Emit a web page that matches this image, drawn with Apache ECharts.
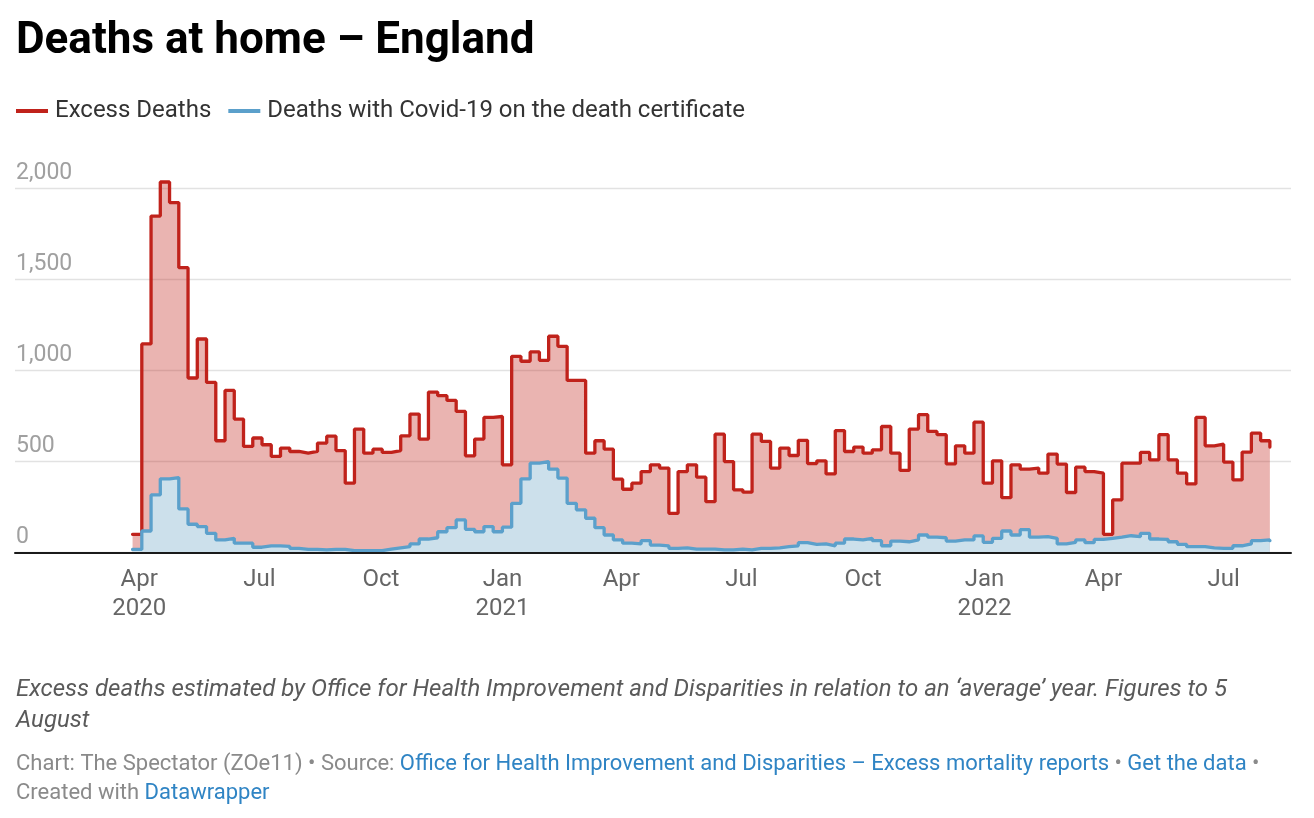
<!DOCTYPE html>
<html>
<head>
<meta charset="utf-8">
<script src="https://cdn.jsdelivr.net/npm/echarts@6/dist/echarts.min.js"></script>
<style>
html,body{margin:0;padding:0;background:#fff;}
#chart{width:1314px;height:818px;}
</style>
</head>
<body>
<div id="chart"></div>
<script>
// Weekly figures, weeks ending Friday, first week ending 27 Mar 2020, last 5 Aug 2022
const firstWeekEnding = '2020-03-27';

const excessDeaths = [
  101, 1145, 1846, 2033, 1920, 1563, 958, 1172, 934, 614,
  890, 733, 583, 629, 592, 528, 574, 555, 546, 555,
  601, 639, 560, 381, 678, 546, 568, 550, 560, 641,
  760, 623, 881, 861, 835, 775, 531, 623, 742, 747,
  482, 1077, 1050, 1101, 1055, 1187, 1132, 945, 945, 546,
  614, 568, 403, 348, 381, 445, 482, 464, 216, 445,
  482, 414, 280, 650, 500, 345, 332, 650, 610, 464,
  574, 533, 616, 489, 504, 432, 670, 555, 579, 546,
  564, 692, 546, 451, 678, 757, 665, 647, 487, 586,
  546, 716, 381, 504, 302, 482, 458, 464, 436, 541,
  486, 330, 469, 445, 436, 101, 290, 491, 491, 550,
  509, 647, 509, 436, 377, 742, 586, 595, 497, 399,
  552, 656, 614, 579
];

const covidDeaths = [
  18, 119, 317, 405, 412, 240, 156, 143, 106, 70,
  79, 52, 52, 30, 37, 37, 35, 24, 18, 18,
  15, 18, 18, 11, 11, 11, 11, 20, 27, 33,
  48, 75, 82, 115, 137, 180, 128, 115, 143, 115,
  140, 271, 405, 491, 500, 458, 409, 271, 235, 189,
  137, 97, 70, 52, 48, 66, 42, 38, 24, 27,
  20, 20, 20, 15, 15, 20, 15, 24, 24, 27,
  33, 38, 55, 46, 48, 38, 52, 75, 70, 79,
  66, 38, 64, 60, 70, 97, 85, 82, 64, 70,
  70, 92, 57, 79, 119, 97, 126, 85, 88, 79,
  48, 57, 70, 55, 73, 79, 85, 93, 88, 106,
  75, 73, 60, 46, 33, 33, 27, 24, 24, 38,
  48, 66, 70, 66
];

const xTickDates = ['2020-04-01','2020-07-01','2020-10-01','2021-01-01','2021-04-01','2021-07-01','2021-10-01','2022-01-01','2022-04-01','2022-07-01'];
const xTickLabels = ['Apr\n2020','Jul','Oct','Jan\n2021','Apr','Jul','Oct','Jan\n2022','Apr','Jul'];
const yTickValues = [0, 500, 1000, 1500, 2000];
const yTickLabels = ['0', '500', '1,000', '1,500', '2,000'];

const seriesNames = ['Excess Deaths', 'Deaths with Covid-19 on the death certificate'];

function ts(s) { const p = s.split('-').map(Number); return Date.UTC(p[0], p[1] - 1, p[2]); }
const DAY = 86400000;
const weekDates = excessDeaths.map((_, i) => ts(firstWeekEnding) + i * 7 * DAY);

const excessData = weekDates.map((d, i) => [d, excessDeaths[i]]);
const covidData = weekDates.map((d, i) => [d, covidDeaths[i]]);

const xTickTs = xTickDates.map(ts);
const xLabelMap = {};
xTickTs.forEach((t, i) => { xLabelMap[t] = xTickLabels[i]; });
const yLabelMap = {};
yTickValues.forEach((v, i) => { yLabelMap[v] = yTickLabels[i]; });

const chart = echarts.init(document.getElementById('chart'), null, { renderer: 'canvas' });

const FONT = 'Roboto';
const RED = '#c0221b';
const BLUE = '#5ba0cb';

chart.setOption({
  backgroundColor: '#ffffff',
  animation: false,
  textStyle: { fontFamily: FONT },
  title: [
    {
      text: 'Deaths at home – England',
      left: 11, top: 12,
      textStyle: { fontFamily: FONT, fontWeight: 'bold', fontSize: 44, lineHeight: 50, color: '#000000' }
    },
    {
      text: 'Excess deaths estimated by Office for Health Improvement and Disparities in relation to an ‘average’ year. Figures to 5\nAugust',
      left: 11, top: 669,
      textStyle: { fontFamily: FONT, fontStyle: 'italic', fontWeight: 'normal', fontSize: 24, lineHeight: 31, color: '#5a5a5a' }
    },
    {
      text: '{g|Chart: The Spectator (ZOe11) • Source: }{b|Office for Health Improvement and Disparities – Excess mortality reports}{g| • }{b|Get the data}{g| •}\n{g|Created with }{b|Datawrapper}',
      left: 11, top: 745,
      textStyle: {
        fontFamily: FONT, fontWeight: 'normal', fontSize: 22, lineHeight: 29,
        rich: {
          g: { fontFamily: FONT, fontSize: 22, lineHeight: 29, color: '#8a8a8a' },
          b: { fontFamily: FONT, fontSize: 22, lineHeight: 29, color: '#2f84c4' }
        }
      }
    }
  ],
  legend: {
    left: 11, top: 94,
    icon: 'rect',
    itemWidth: 32, itemHeight: 4,
    itemGap: 17,
    textStyle: { fontFamily: FONT, fontSize: 24, color: '#333333', padding: [0, 0, 0, 2] },
    data: seriesNames
  },
  grid: { left: 15, right: 23, top: 188, bottom: 265.3, containLabel: false },
  xAxis: {
    type: 'value',
    min: ts('2019-12-29'),
    max: ts('2022-08-21'),
    z: 10,
    axisLine: { show: true, onZero: false, lineStyle: { color: '#1a1a1a', width: 2 } },
    axisTick: { show: false },
    splitLine: { show: false },
    axisLabel: {
      customValues: xTickTs,
      showMinLabel: true, showMaxLabel: true,
      formatter: function (v) { return xLabelMap[v] !== undefined ? xLabelMap[v] : ''; },
      fontFamily: FONT, fontSize: 24, lineHeight: 29, color: '#666666', margin: 13,
      align: 'center', hideOverlap: false
    }
  },
  yAxis: {
    type: 'value',
    min: 0, max: 2000, interval: 500,
    axisLine: { show: false },
    axisTick: { show: false },
    splitLine: { show: true, lineStyle: { color: '#e2e2e2', width: 1.3 } },
    axisLabel: {
      inside: true,
      margin: 1,
      align: 'left',
      verticalAlign: 'bottom',
      padding: [0, 0, 3, 0],
      fontFamily: FONT, fontSize: 23, lineHeight: 24, color: '#a0a0a0',
      formatter: function (v) { return yLabelMap[v] !== undefined ? yLabelMap[v] : ''; }
    }
  },
  series: [
    {
      name: seriesNames[0],
      type: 'line',
      step: 'end',
      data: excessData,
      showSymbol: false,
      symbol: 'none',
      clip: false,
      z: 2,
      itemStyle: { color: RED },
      lineStyle: { color: RED, width: 3.3, cap: 'round' },
      areaStyle: { color: 'rgba(192,34,27,0.34)', opacity: 1 }
    },
    {
      name: seriesNames[1],
      type: 'line',
      step: 'end',
      data: covidData,
      showSymbol: false,
      symbol: 'none',
      clip: false,
      z: 3,
      itemStyle: { color: BLUE },
      lineStyle: { color: BLUE, width: 3.3, cap: 'round' },
      areaStyle: { color: '#cce0eb', opacity: 1 }
    }
  ]
});
</script>
</body>
</html>
